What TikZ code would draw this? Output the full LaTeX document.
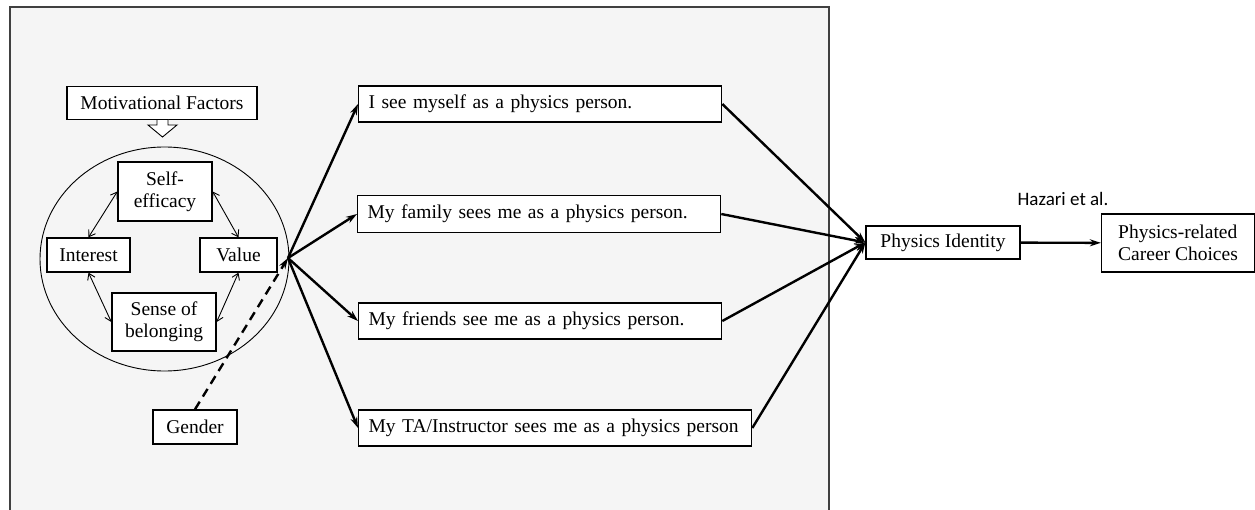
\documentclass[tikz,border=0pt]{standalone}
\usepackage{fontspec}
\setmainfont{Liberation Serif}
\newfontfamily\calibri{Carlito}
\usetikzlibrary{arrows.meta}
\usetikzlibrary{positioning}
\tikzset{box/.style = {draw, fill = white, line width = 1.3pt, inner sep = 0pt, font = \fontsize{19.5}{22}\selectfont}}
\tikzset{stmt/.style = {box, anchor = west, text width = 343pt, inner xsep = 10pt, minimum height = 36pt, align = left}}
\tikzset{link/.style = {line width = 2.4pt, -{Stealth[length = 11pt, width = 7pt]}}}
\tikzset{both/.style = {line width = 0.9pt, {Straight Barb[length = 6pt, width = 8pt]}-{Straight Barb[length = 6pt, width = 8pt]}}}
\definecolor{panel}{rgb}{0.96, 0.96, 0.96}
\definecolor{edge}{rgb}{0.25, 0.25, 0.25}

\begin{document}
\begin{tikzpicture}[x = 1pt, y = -1pt]
       \useasboundingbox (0, 0) rectangle (1255, 510);
       \draw [edge, fill = panel, line width = 1.4pt] (10, 7) rectangle (829, 520);

       % motivational factors
       \node [box, minimum width = 190pt, minimum height = 33pt] (motiv) at (162, 103) {Motivational Factors};
       \draw [fill = white, line width = 0.9pt] (157, 119.5) -- (168, 119.5) -- (168, 125) -- (177, 125) -- (162.5, 137) -- (148, 125) -- (157, 125) -- cycle;
       \draw [line width = 0.9pt] (164.5, 259) ellipse [x radius = 124.5pt, y radius = 112pt];

       \node [box, minimum width = 94pt, minimum height = 59pt, align = center] (selfeff) at (165, 191.5) {Self-\\efficacy};
       \node [box, minimum width = 83pt, minimum height = 34pt] (interest) at (88.5, 255) {Interest};
       \node [box, minimum width = 77pt, minimum height = 34pt] (value) at (238.5, 255) {Value};
       \node [box, minimum width = 104pt, minimum height = 58pt, align = center] (belong) at (164, 322) {Sense of\\belonging};
       \node [box, minimum width = 84pt, minimum height = 34pt] (gender) at (195, 427) {Gender};

       \draw [both] (interest.north) -- (selfeff.west);
       \draw [both] (selfeff.east) -- (value.north);
       \draw [both] (interest.south) -- (belong.west);
       \draw [both] (belong.east) -- (value.south);

       \coordinate (hub) at (288, 258);

       % identity statements
       \node [stmt] (self) at (358, 104) {I see myself as a physics person.};
       \node [stmt, minimum height = 37pt] (family) at (357, 214) {My family sees me as a physics person.};
       \node [stmt] (friends) at (358, 321) {My friends see me as a physics person.};
       \node [stmt, text width = 373pt] (ta) at (358, 428) {My TA/Instructor sees me as a physics person};

       \foreach \s in {self, family, friends, ta}
              \draw [link] (hub) -- (\s.west);
       \draw [link, dashed, dash pattern = on 9pt off 6pt] (gender.north) -- (hub);

       \node [box, minimum width = 154pt, minimum height = 33pt] (ident) at (943, 242.5) {Physics Identity};
       \node [box, minimum width = 153pt, minimum height = 58pt, align = left] (career) at (1178, 243) {Physics-related\\Career Choices};
       \node [font = \calibri\fontsize{19}{22}\selectfont] (hazari) at (1063, 199) {Hazari et al.};

       \foreach \s in {self, family, friends, ta}
              \draw [link] (\s.east) -- (ident.west);
       \draw [link] (ident) -- (career);
    \end{tikzpicture}
\end{document}
